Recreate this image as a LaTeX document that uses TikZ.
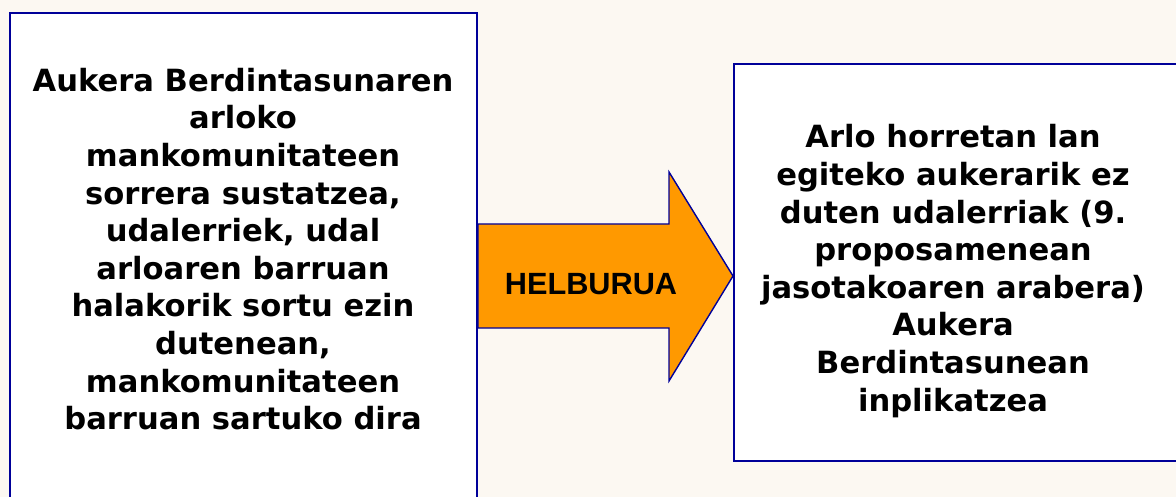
\documentclass[tikz,border=0pt]{standalone}
\usepackage{fontspec}
\usepackage{xcolor}
\usepackage{tikz}
\usetikzlibrary{positioning}
\newfontfamily\boxfont{DejaVu Sans}
\newfontfamily\arrowfont{Liberation Sans}
\definecolor{boxblue}{RGB}{0,0,153}
\definecolor{arroworange}{RGB}{255,153,0}
\definecolor{paper}{RGB}{252,248,242}

\begin{document}
\begin{tikzpicture}[x=1pt,y=-1pt]
  \tikzstyle{panel}=[draw=boxblue,line width=1.8pt,fill=white,anchor=north west,inner sep=0pt]
  \tikzstyle{paneltext}=[align=center,inner sep=0pt,font=\boxfont\bfseries\fontsize{30.6}{37.6}\selectfont]
  \useasboundingbox (0,0) rectangle (1176,497);
  \clip (0,0) rectangle (1176,497);
  \fill[paper] (0,0) rectangle (1176,497);
  % the two panels
  \node[panel,minimum width=467pt,minimum height=520pt] (left) at (9,12) {};
  \node[panel,minimum width=460pt,minimum height=397pt] (right) at (733,63) {};
  \coordinate (tip) at (right.west |- 0,276);
  % block arrow between them
  \draw[boxblue,line width=1.4pt,fill=arroworange,line join=miter]
    (left.east |- 0,224) -- (669,224) -- (669,172) -- (tip)
    -- (669,381) -- (669,328) -- (left.east |- 0,328) -- cycle;
  \node[font=\arrowfont\bfseries\fontsize{30.7}{36}\selectfont] (goal) at (591,284) {HELBURUA};
  \node[paneltext] (lefttext) at (243,249) {Aukera Berdintasunaren\\arloko\\mankomunitateen\\sorrera sustatzea,\\udalerriek, udal\\arloaren barruan\\halakorik sortu ezin\\dutenean,\\mankomunitateen\\barruan sartuko dira};
  \node[paneltext] (righttext) at (953,271) {Arlo horretan lan\\egiteko aukerarik ez\\duten udalerriak (9.\\proposamenean\\jasotakoaren arabera)\\Aukera\\Berdintasunean\\inplikatzea};
\end{tikzpicture}
\end{document}
